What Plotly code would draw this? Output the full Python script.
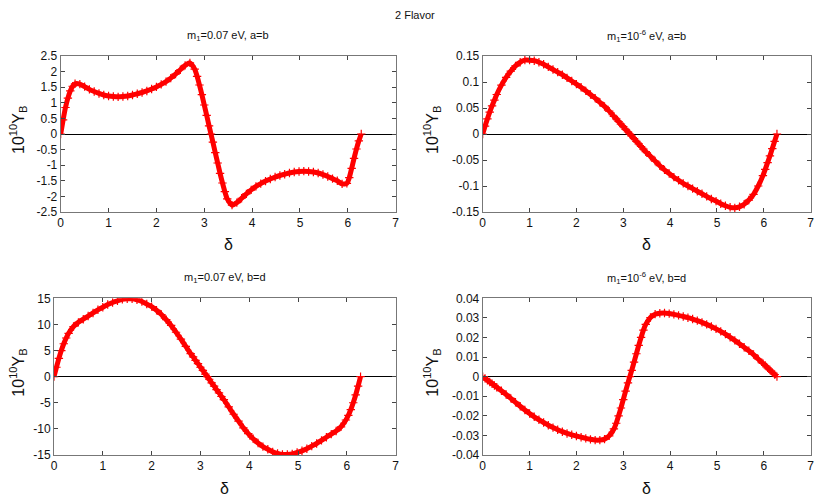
import plotly.graph_objects as go

W, H = 830, 498
PAGE_OFFSET = 8  # default body margin of the html page

# ---------------- data ----------------
delta = [0, 0.05, 0.1, 0.15, 0.2, 0.25, 0.3, 0.4, 0.5, 0.6, 0.7, 0.8, 0.9, 1.0,
         1.1, 1.2, 1.3, 1.4, 1.5, 1.6, 1.7, 1.8, 1.9, 2.0, 2.1, 2.2, 2.3, 2.4,
         2.5, 2.6, 2.7, 2.8, 2.85, 2.9, 2.95, 3.0, 3.05, 3.1, 3.14,
         3.18, 3.23, 3.28, 3.33, 3.38, 3.43, 3.48, 3.58, 3.68, 3.78, 3.88,
         3.98, 4.08, 4.18, 4.28, 4.38, 4.48, 4.58, 4.68, 4.78, 4.88, 4.98,
         5.08, 5.18, 5.28, 5.38, 5.48, 5.58, 5.68, 5.78, 5.88, 5.98, 6.03,
         6.08, 6.13, 6.18, 6.23, 6.28]

yb_m007_ab = [0, 0.45, 0.85, 1.15, 1.38, 1.53, 1.61, 1.6, 1.52, 1.43, 1.36, 1.3,
              1.25, 1.22, 1.2, 1.19, 1.2, 1.22, 1.25, 1.29, 1.33, 1.38, 1.44,
              1.51, 1.59, 1.68, 1.79, 1.92, 2.06, 2.2, 2.28, 2.08, 1.85, 1.57,
              1.26, 0.93, 0.6, 0.26, 0,
              -0.26, -0.6, -0.93, -1.26, -1.57, -1.85, -2.08, -2.28, -2.2,
              -2.06, -1.92, -1.79, -1.68, -1.59, -1.51, -1.44, -1.38, -1.33,
              -1.29, -1.25, -1.22, -1.2, -1.19, -1.2, -1.22, -1.25, -1.3,
              -1.36, -1.43, -1.5, -1.6, -1.58, -1.4, -1.1, -0.78, -0.48,
              -0.22, 0]

yb_m1e6_ab = [0, 0.015, 0.029, 0.042, 0.054, 0.065, 0.076, 0.094, 0.109, 0.121,
              0.131, 0.138, 0.142, 0.142, 0.141, 0.138, 0.134, 0.129, 0.124,
              0.119, 0.114, 0.108, 0.102, 0.096, 0.09, 0.083, 0.076, 0.069,
              0.061, 0.053, 0.044, 0.034, 0.029, 0.024, 0.019, 0.014, 0.009,
              0.004, 0,
              -0.004, -0.009, -0.014, -0.019, -0.024, -0.029, -0.034, -0.043,
              -0.052, -0.061, -0.069, -0.076, -0.083, -0.089, -0.095, -0.1,
              -0.105, -0.11, -0.115, -0.12, -0.125, -0.129, -0.134, -0.138,
              -0.141, -0.142, -0.14, -0.135, -0.127, -0.116, -0.1, -0.08,
              -0.068, -0.055, -0.042, -0.028, -0.014, 0]

yb_m007_bd = [0, 1.8, 3.5, 5.0, 6.3, 7.4, 8.3, 9.6, 10.4, 11.0, 11.6, 12.2, 12.8,
              13.3, 13.8, 14.2, 14.5, 14.8, 14.9, 14.9, 14.7, 14.4, 13.9, 13.4,
              12.7, 11.9, 10.9, 9.8, 8.5, 7.2, 5.8, 4.4, 3.8, 3.1, 2.5, 1.8,
              1.2, 0.5, 0,
              -0.5, -1.2, -1.8, -2.5, -3.1, -3.8, -4.4, -5.8, -7.2, -8.5, -9.8,
              -10.9, -11.9, -12.7, -13.4, -13.9, -14.4, -14.7, -14.9, -14.9,
              -14.8, -14.5, -14.2, -13.8, -13.3, -12.8, -12.2, -11.6, -11.0,
              -10.4, -9.6, -8.3, -7.4, -6.3, -5.0, -3.5, -1.8, 0]

yb_m1e6_bd = [0, -0.0009, -0.0018, -0.0027, -0.0036, -0.0045, -0.0054, -0.0072,
              -0.0091, -0.0111, -0.0131, -0.0151, -0.017, -0.0188, -0.0205,
              -0.022, -0.0234, -0.0248, -0.026, -0.0271, -0.0281, -0.029,
              -0.0297, -0.0303, -0.0309, -0.0315, -0.032, -0.0324, -0.0324,
              -0.0319, -0.0302, -0.0267, -0.0238, -0.02, -0.016, -0.0117,
              -0.0074, -0.0032, 0,
              0.0032, 0.0074, 0.0117, 0.016, 0.02, 0.0238, 0.0267, 0.0302,
              0.0319, 0.0324, 0.0325, 0.0322, 0.0318, 0.0313, 0.0307, 0.0301,
              0.0294, 0.0286, 0.0277, 0.0267, 0.0256, 0.0244, 0.0231, 0.0217,
              0.0201, 0.0185, 0.0168, 0.015, 0.0132, 0.0113, 0.009, 0.0068,
              0.0057, 0.0045, 0.0034, 0.0022, 0.0011, 0]

x_ticks = [0, 1, 2, 3, 4, 5, 6, 7]
y_ticks_1 = [2.5, 2, 1.5, 1, 0.5, 0, -0.5, -1, -1.5, -2, -2.5]
y_ticks_2 = [0.15, 0.1, 0.05, 0, -0.05, -0.1, -0.15]
y_ticks_3 = [15, 10, 5, 0, -5, -10, -15]
y_ticks_4 = [0.04, 0.03, 0.02, 0.01, 0, -0.01, -0.02, -0.03, -0.04]

titles = ["m<sub>1</sub>=0.07 eV, a=b", "m<sub>1</sub>=10<sup>-6</sup> eV, a=b",
          "m<sub>1</sub>=0.07 eV, b=d", "m<sub>1</sub>=10<sup>-6</sup> eV, b=d"]
main_title = "2 Flavor"
x_title = "δ"
y_title = "10<sup>10</sup>Y<sub>B</sub>"

series = [yb_m007_ab, yb_m1e6_ab, yb_m007_bd, yb_m1e6_bd]
yticks = [y_ticks_1, y_ticks_2, y_ticks_3, y_ticks_4]

# ---------------- layout (pixel boxes of the plot areas, screen px) ----------------
boxes = [  # left, right, top, bottom
    (60.7, 395.7, 56, 212),
    (482.7, 810.7, 56, 212),
    (54, 395.7, 298.3, 455),
    (482.7, 810.7, 298.3, 455),
]
ylab_x = [18, 432, 18, 432]

FONT = "Liberation Sans, Arial, sans-serif"


def fx(px):
    return (px - PAGE_OFFSET) / W


def fy(py):
    return 1 - (py - PAGE_OFFSET) / H


def fmt(v):
    return "%g" % v


fig = go.Figure()
annotations = []
layout_axes = {}
for i, (ys, yt, box, ttl) in enumerate(zip(series, yticks, boxes, titles)):
    n = "" if i == 0 else str(i + 1)
    xa, ya = "x" + n, "y" + n
    fig.add_trace(go.Scatter(
        x=delta, y=ys, xaxis=xa, yaxis=ya, mode="lines+markers",
        line=dict(color="#ff0000", width=5, shape="spline", smoothing=0.6),
        marker=dict(symbol="cross-thin", size=6, line=dict(color="#ff0000", width=1.2)),
        showlegend=False, hoverinfo="skip"))
    l, r, t, b = box
    common = dict(showline=True, mirror="ticks", linecolor="#777777", linewidth=1,
                  ticks="inside", ticklen=4, tickcolor="#444444", tickwidth=1,
                  showgrid=False, tickfont=dict(family=FONT, size=12, color="#111111"),
                  automargin=False)
    layout_axes["xaxis" + n] = dict(
        domain=[fx(l), fx(r)], range=[0, 7], anchor=ya, zeroline=False,
        tickvals=x_ticks, ticktext=[fmt(v) for v in x_ticks], **common)
    layout_axes["yaxis" + n] = dict(
        domain=[fy(b), fy(t)], range=[yt[-1], yt[0]], anchor=xa,
        zeroline=True, zerolinecolor="#000000", zerolinewidth=1,
        tickvals=yt, ticktext=[fmt(v) for v in yt], **common)
    cx = (l + r) / 2
    annotations.append(dict(text=ttl, x=fx(cx), y=fy(t - 20), xref="paper", yref="paper",
                            showarrow=False, xanchor="center", yanchor="middle",
                            font=dict(family=FONT, size=11, color="#111111")))
    annotations.append(dict(text=x_title, x=fx(cx), y=fy(b + 33), xref="paper", yref="paper",
                            showarrow=False, xanchor="center", yanchor="middle",
                            font=dict(family=FONT, size=16, color="#111111")))
    annotations.append(dict(text=y_title, x=fx(ylab_x[i]), y=fy((t + b) / 2 - 4), xref="paper",
                            yref="paper", showarrow=False, textangle=-90,
                            xanchor="center", yanchor="middle",
                            font=dict(family=FONT, size=16, color="#111111")))

annotations.append(dict(text=main_title, x=fx(415), y=fy(15), xref="paper", yref="paper",
                        showarrow=False, xanchor="center", yanchor="middle",
                        font=dict(family=FONT, size=11, color="#111111")))

fig.update_layout(width=W, height=H, margin=dict(l=0, r=0, t=0, b=0),
                  paper_bgcolor="white", plot_bgcolor="white",
                  annotations=annotations, **layout_axes)

fig.write_html("out.html")
